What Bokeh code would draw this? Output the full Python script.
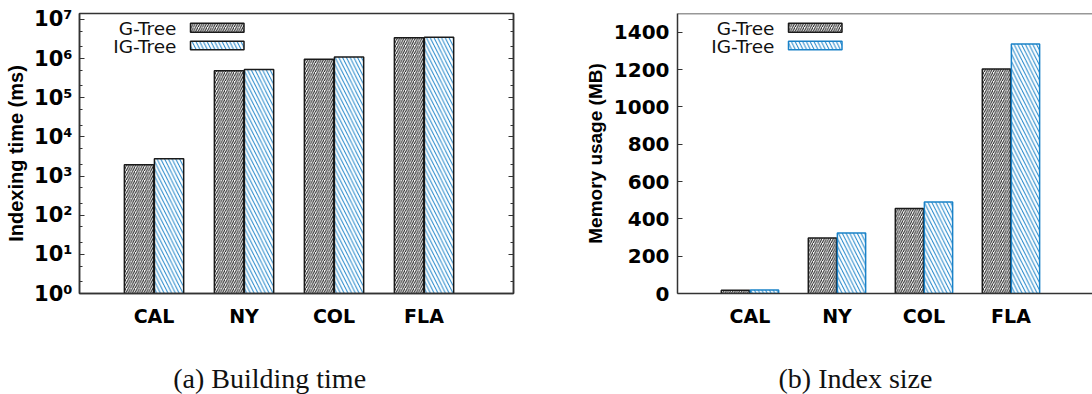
import math
from bokeh.plotting import figure
from bokeh.models import FixedTicker, LogAxis, Range1d, Span
from bokeh.layouts import row, column
from bokeh.embed import file_html
from bokeh.resources import INLINE
from bokeh.core.properties import value

# ---------------- data ----------------
categories = ["CAL", "NY", "COL", "FLA"]
series_names = ["G-Tree", "IG-Tree"]
gtree_build_ms = [1950, 490000, 970000, 3400000]
igtree_build_ms = [2750, 525000, 1100000, 3500000]
gtree_size_mb = [18, 297, 456, 1203]
igtree_size_mb = [19, 324, 490, 1337]
time_tick_exponents = [0, 1, 2, 3, 4, 5, 6, 7]
time_tick_labels = ["10⁰", "10¹", "10²", "10³", "10⁴", "10⁵", "10⁶", "10⁷"]
size_ticks = [0, 200, 400, 600, 800, 1000, 1200, 1400]
y_titles = ["Indexing time (ms)", "Memory usage (MB)"]
captions = ["(a) Building time", "(b) Index size"]

# ---------------- style / layout ----------------
AX = "#333333"
BLUE = "#1a82c8"
DARK = "#1a1a1a"
TICK_FONT = "DejaVu Sans"
YLAB_FONT = "Liberation Sans"
LEG_FONT = "DejaVu Sans"
CAP_FONT = "Liberation Serif"

TOTAL_W, TOTAL_H = 1092, 394
TOP, FRAME_H, BOTTOM = 13, 280, 60
PLOT_H = TOP + FRAME_H + BOTTOM
CAP_H = TOTAL_H - PLOT_H

P1_LEFT, P1_FW, P1_RIGHT = 79, 434, 30
P2_LEFT, P2_RIGHT = 134, 0
P2_W = TOTAL_W - (P1_LEFT + P1_FW + P1_RIGHT)
P2_FW = P2_W - P2_LEFT - P2_RIGHT

X1_START, X1_PPU = -0.828, 90.0
X2_START, X2_PPU = -0.833, 87.0
LOG_TOP = 7.153
LIN_TOP = 1500

BAR_W, OFF = 0.325, 0.167
idx = list(range(len(categories)))
x_g = [i - OFF for i in idx]
x_ig = [i + OFF for i in idx]

# legend geometry (pixel offsets from the frame's top-left corner)
LEG_TEXT_R = 97
LEG_BOX_L, LEG_BOX_R = 111, 164.5
LEG_ROWS = [(14.5, 9.7, 18.7), (33, 27.7, 36.3)]  # (text centre, box top, box bottom)
# caption positions in the caption strip (pixels)
CAP_X = [172.7, 778]
CAP_Y = 16


def fx(start, ppu, off):
    return start + off / ppu


def fy_log(off):
    return 10 ** ((FRAME_H - off) / FRAME_H * LOG_TOP)


def fy_lin(off):
    return (FRAME_H - off) / FRAME_H * LIN_TOP


def base_fig(width, left, right, xr, yr, ytype):
    p = figure(width=width, height=PLOT_H, x_range=xr, y_range=yr, y_axis_type=ytype,
               toolbar_location=None, output_backend="svg",
               min_border_left=left, min_border_right=right,
               min_border_top=TOP, min_border_bottom=BOTTOM)
    p.grid.visible = False
    p.background_fill_color = "white"
    p.border_fill_color = "white"
    # x axis
    p.xaxis.ticker = FixedTicker(ticks=idx)
    p.xaxis.major_label_overrides = {i: c for i, c in zip(idx, categories)}
    p.xaxis.major_tick_line_color = None
    p.xaxis.minor_tick_line_color = None
    p.xaxis.major_label_standoff = 5
    p.xaxis.major_label_text_font = TICK_FONT
    p.xaxis.major_label_text_font_style = "bold"
    p.xaxis.major_label_text_font_size = "19px"
    p.xaxis.major_label_text_color = "#000000"
    p.axis.axis_line_color = AX
    p.axis.axis_line_width = 1.5
    # y axis
    p.yaxis.major_tick_in = 5
    p.yaxis.major_tick_out = 0
    p.yaxis.minor_tick_in = 3
    p.yaxis.minor_tick_out = 0
    p.yaxis.major_tick_line_color = AX
    p.yaxis.minor_tick_line_color = AX
    p.yaxis.major_label_text_font = TICK_FONT
    p.yaxis.major_label_text_font_style = "bold"
    p.yaxis.major_label_text_color = "#000000"
    p.yaxis.axis_label_text_font = YLAB_FONT
    p.yaxis.axis_label_text_font_style = "bold"
    p.yaxis.axis_label_text_color = "#000000"
    return p


def add_legend(p, xstart, xppu, fy, ig_line):
    xs = [fx(xstart, xppu, LEG_TEXT_R)] * 2
    ys = [fy(r[0]) for r in LEG_ROWS]
    p.text(x=xs, y=ys, text=series_names, text_align="right", text_baseline="middle",
           text_font=value(LEG_FONT), text_font_size="18.5px", text_color="#111111")
    l = fx(xstart, xppu, LEG_BOX_L)
    r = fx(xstart, xppu, LEG_BOX_R)
    p.quad(left=[l], right=[r], top=[fy(LEG_ROWS[0][1])], bottom=[fy(LEG_ROWS[0][2])],
           fill_color="white", line_color=DARK, line_width=1.5,
           hatch_pattern="/", hatch_color=DARK, hatch_scale=4.5, hatch_weight=1)
    p.quad(left=[l], right=[r], top=[fy(LEG_ROWS[1][1])], bottom=[fy(LEG_ROWS[1][2])],
           fill_color="white", line_color=ig_line, line_width=1.5,
           hatch_pattern="\\", hatch_color=BLUE, hatch_scale=7.5, hatch_weight=1)


# ---------------- (a) building time ----------------
x1r = Range1d(X1_START, X1_START + P1_FW / X1_PPU)
y1r = Range1d(1, 10 ** LOG_TOP)
p1 = base_fig(P1_LEFT + P1_FW + P1_RIGHT, P1_LEFT, P1_RIGHT, x1r, y1r, "log")
major = [10 ** e for e in time_tick_exponents]
minor = [m * 10 ** e for e in time_tick_exponents[:-1] for m in (2, 5)]
p1.yaxis.ticker = FixedTicker(ticks=major, minor_ticks=minor)
p1.yaxis.major_label_overrides = {t: s for t, s in zip(major, time_tick_labels)}
p1.yaxis.major_label_text_font_size = "21px"
p1.yaxis.major_label_standoff = 7
p1.yaxis.axis_label = y_titles[0]
p1.yaxis.axis_label_text_font_size = "20px"
p1.yaxis.axis_label_standoff = 4
p1.outline_line_color = AX
p1.outline_line_width = 1.5
p1.outline_line_alpha = 1

mirror = LogAxis(ticker=FixedTicker(ticks=major, minor_ticks=minor),
                 major_tick_in=5, major_tick_out=0, minor_tick_in=3, minor_tick_out=0,
                 major_tick_line_color=AX, minor_tick_line_color=AX,
                 axis_line_color=AX, axis_line_width=1.5,
                 major_label_text_font_size="0px", major_label_standoff=0,
                 major_label_overrides={t: "" for t in major})
p1.add_layout(mirror, "right")

p1.vbar(x=x_g, top=gtree_build_ms, bottom=1, width=BAR_W,
        fill_color="white", line_color=DARK, line_width=1.5,
        hatch_pattern="/", hatch_color=DARK, hatch_scale=4.5, hatch_weight=1)
p1.vbar(x=x_ig, top=igtree_build_ms, bottom=1, width=BAR_W,
        fill_color="white", line_color=DARK, line_width=1.5,
        hatch_pattern="\\", hatch_color=BLUE, hatch_scale=7.5, hatch_weight=1)
add_legend(p1, X1_START, X1_PPU, fy_log, DARK)

# ---------------- (b) index size ----------------
x2r = Range1d(X2_START, X2_START + P2_FW / X2_PPU)
y2r = Range1d(0, LIN_TOP)
p2 = base_fig(P2_W, P2_LEFT, P2_RIGHT, x2r, y2r, "linear")
p2.yaxis.ticker = FixedTicker(ticks=size_ticks)
p2.yaxis.minor_tick_line_color = None
p2.yaxis.major_label_text_font_size = "20px"
p2.yaxis.major_label_standoff = 8
p2.yaxis.axis_label = y_titles[1]
p2.yaxis.axis_label_text_font_size = "19px"
p2.yaxis.axis_label_standoff = 5
p2.outline_line_color = None
p2.add_layout(Span(location=LIN_TOP, dimension="width", line_color=AX, line_width=1.5))

p2.vbar(x=x_g, top=gtree_size_mb, bottom=0, width=BAR_W,
        fill_color="white", line_color=DARK, line_width=1.5,
        hatch_pattern="/", hatch_color=DARK, hatch_scale=4.5, hatch_weight=1)
p2.vbar(x=x_ig, top=igtree_size_mb, bottom=0, width=BAR_W,
        fill_color="white", line_color=BLUE, line_width=1.5,
        hatch_pattern="\\", hatch_color=BLUE, hatch_scale=7.5, hatch_weight=1)
add_legend(p2, X2_START, X2_PPU, fy_lin, BLUE)

# ---------------- captions ----------------
cap = figure(width=TOTAL_W, height=CAP_H, x_range=Range1d(0, TOTAL_W), y_range=Range1d(0, CAP_H),
             toolbar_location=None, output_backend="svg", x_axis_location=None, y_axis_location=None,
             min_border=0)
cap.grid.visible = False
cap.outline_line_color = None
cap.text(x=CAP_X, y=[CAP_Y, CAP_Y], text=captions, text_baseline="alphabetic",
         text_font=value(CAP_FONT), text_font_size="28px", text_color="#111111")

layout = column(row(p1, p2), cap)
open("out.html", "w").write(file_html(layout, INLINE))
